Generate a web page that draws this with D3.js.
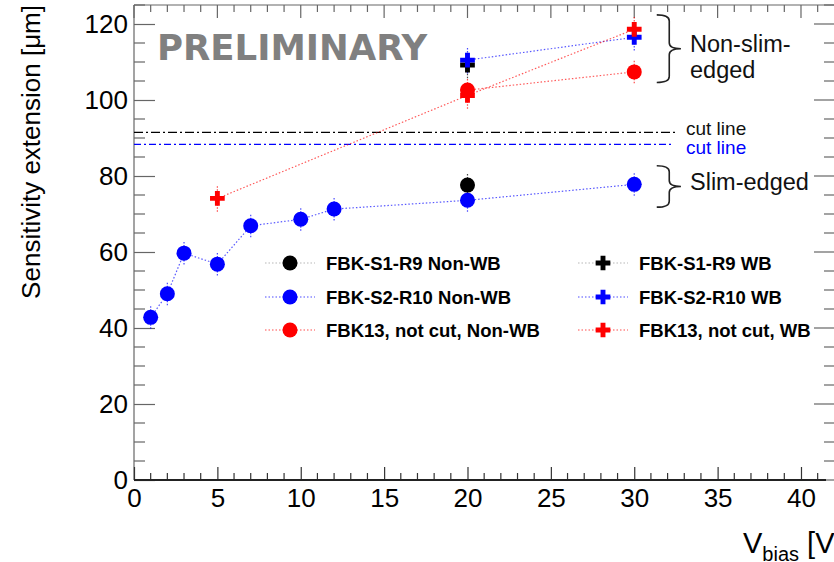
<!DOCTYPE html>
<html><head><meta charset="utf-8">
<script src="https://cdn.jsdelivr.net/npm/d3@7"></script>
<style>body{margin:0;background:#fff}svg{display:block}</style>
</head><body>
<svg id="c" width="834" height="562"></svg>
<script>
// ---- data ----
const xTickLabels = [0,5,10,15,20,25,30,35,40];
const yTickLabels = [0,20,40,60,80,100,120];

const s1r9NonWB_V = [20];
const s1r9NonWB   = [77.6];
const s1r9WB_V    = [20];
const s1r9WB      = [109.2];
const s2r10NonWB_V = [1,2,3,5,7,10,12,20,30];
const s2r10NonWB   = [42.8,49.0,59.7,56.8,66.9,68.6,71.3,73.6,77.8];
const s2r10WB_V   = [20,30];
const s2r10WB     = [110.5,116.5];
const fbk13NonWB_V = [20,30];
const fbk13NonWB   = [102.6,107.4];
const fbk13WB_V   = [5,20,30];
const fbk13WB     = [74.1,101.2,118.6];
const errCircle = 3.0;
const errCross = 3.5;

const cutLines = [
  {value: 91.5, xEnd: 32.6, color: "#000", label: "cut line", labelAt: 92.4},
  {value: 88.3, xEnd: 32.3, color: "#0000ff", label: "cut line", labelAt: 87.4}
];
const braces = [
  {x0: 31.35, x1: 32.1, tip: 32.8, top: 122.4, bot: 104.6, labelAt: 112.6, lines: ["Non-slim-","edged"]},
  {x0: 31.35, x1: 32.1, tip: 32.8, top: 82.7, bot: 71.8, labelAt: 76.3, lines: ["Slim-edged"]}
];

const series = [
  {name:"FBK-S1-R9 Non-WB", V:s1r9NonWB_V, y:s1r9NonWB, color:"#000", mk:"circle", lc:"#999", col:0, row:0},
  {name:"FBK-S1-R9 WB", V:s1r9WB_V, y:s1r9WB, color:"#000", mk:"cross", lc:"#999", col:1, row:0},
  {name:"FBK-S2-R10 Non-WB", V:s2r10NonWB_V, y:s2r10NonWB, color:"#0000ff", mk:"circle", lc:"#0000ff", col:0, row:1},
  {name:"FBK-S2-R10 WB", V:s2r10WB_V, y:s2r10WB, color:"#0000ff", mk:"cross", lc:"#0000ff", col:1, row:1},
  {name:"FBK13, not cut, Non-WB", V:fbk13NonWB_V, y:fbk13NonWB, color:"#ff0000", mk:"circle", lc:"#ff0000", col:0, row:2},
  {name:"FBK13, not cut, WB", V:fbk13WB_V, y:fbk13WB, color:"#ff0000", mk:"cross", lc:"#ff0000", col:1, row:2}
];

// ---- layout ----
const svg = d3.select("#c");
const L = 134, R = 826, T = 5, B = 480;
const x = d3.scaleLinear().domain([0, 41.5]).range([L, R]);
const y = d3.scaleLinear().domain([0, 125]).range([B, T]);
const font = "'Liberation Sans', Arial, Helvetica, sans-serif";
const axisCol = "#666";

// frame top line
svg.append("line").attr("x1", L).attr("x2", 834).attr("y1", T).attr("y2", T)
  .attr("stroke", axisCol).attr("stroke-width", 1.2);

// top ticks
const unitTicks = d3.range(0, 42, 1);
svg.append("g").selectAll("line").data(unitTicks).join("line")
  .attr("x1", d => x(d)).attr("x2", d => x(d))
  .attr("y1", T).attr("y2", d => T + (d % 5 === 0 ? 13 : 7))
  .attr("stroke", axisCol).attr("stroke-width", 1.2);

// right ticks
const fiveTicks = d3.range(0, 126, 5);
svg.append("g").selectAll("line").data(fiveTicks).join("line")
  .attr("x1", 834).attr("x2", d => 834 - (d % 20 === 0 ? 20 : 10))
  .attr("y1", d => y(d)).attr("y2", d => y(d))
  .attr("stroke", axisCol).attr("stroke-width", 1.2);

// left axis
const gy = svg.append("g").attr("transform", `translate(${L},0)`)
  .call(d3.axisLeft(y).tickValues(yTickLabels).tickSize(-21).tickPadding(6).tickFormat(d3.format("d")));
gy.select(".domain").remove();
gy.selectAll(".tick line").attr("stroke", axisCol).attr("stroke-width", 1.2);
gy.selectAll(".tick text").attr("font-family", font).attr("font-size", 26).attr("fill", "#000");
svg.append("g").selectAll("line").data(fiveTicks.filter(d => d % 20 !== 0)).join("line")
  .attr("x1", L).attr("x2", L + 11).attr("y1", d => y(d)).attr("y2", d => y(d))
  .attr("stroke", axisCol).attr("stroke-width", 1.2);
svg.append("line").attr("x1", L).attr("x2", L).attr("y1", T).attr("y2", B)
  .attr("stroke", axisCol).attr("stroke-width", 1.2);

// bottom axis
const gx = svg.append("g").attr("transform", `translate(0,${B})`)
  .call(d3.axisBottom(x).tickValues(xTickLabels).tickSize(-13).tickPadding(9).tickFormat(d3.format("d")));
gx.select(".domain").remove();
gx.selectAll(".tick line").attr("stroke", "#333").attr("stroke-width", 1.2);
gx.selectAll(".tick text").attr("font-family", font).attr("font-size", 26).attr("fill", "#000");
svg.append("g").selectAll("line").data(unitTicks.filter(d => d % 5 !== 0)).join("line")
  .attr("x1", d => x(d)).attr("x2", d => x(d)).attr("y1", B).attr("y2", B - 7)
  .attr("stroke", "#333").attr("stroke-width", 1.2);
svg.append("line").attr("x1", L).attr("x2", R).attr("y1", B).attr("y2", B)
  .attr("stroke", "#222").attr("stroke-width", 2.2);

// axis titles
svg.append("text").attr("transform", `translate(40,${T}) rotate(-90)`)
  .attr("text-anchor", "end").attr("font-family", font).attr("font-size", 26)
  .text("Sensitivity extension [\u03BCm]");
const xt = svg.append("text").attr("x", 743).attr("y", 553)
  .attr("font-family", font).attr("font-size", 29);
xt.append("tspan").text("V");
xt.append("tspan").attr("font-size", 20).attr("dy", 8).text("bias");
xt.append("tspan").attr("dy", -8).text(" [V]");

// PRELIMINARY
svg.append("text").attr("x", 157).attr("y", 60)
  .attr("font-family", "'DejaVu Sans', Verdana, sans-serif").attr("font-weight", "bold")
  .attr("font-size", 35.5).attr("fill", "#808080").text("PRELIMINARY");

// cut lines
cutLines.forEach((c, i) => {
  svg.append("line").attr("x1", x(0)).attr("x2", x(c.xEnd))
    .attr("y1", y(c.value)).attr("y2", y(c.value))
    .attr("stroke", c.color).attr("stroke-width", 1.3)
    .attr("stroke-dasharray", i === 0 ? "9,3,2,3" : "7,3,2,3");
  svg.append("text").attr("x", 686).attr("y", y(c.labelAt) + 6)
    .attr("font-family", font).attr("font-size", 19).attr("fill", c.color === "#000" ? "#111" : "#0000ff")
    .text(c.label);
});

// braces + labels
braces.forEach(b => {
  const x0 = x(b.x0), x1 = x(b.x1), xt2 = x(b.tip);
  const yt = y(b.top), yb = y(b.bot), ym = (yt + yb) / 2, r = 6;
  const p = `M${x0},${yt} Q${x1},${yt} ${x1},${yt + r} L${x1},${ym - r} Q${x1},${ym} ${xt2},${ym}`
    + ` Q${x1},${ym} ${x1},${ym + r} L${x1},${yb - r} Q${x1},${yb} ${x0},${yb}`;
  svg.append("path").attr("d", p).attr("fill", "none").attr("stroke", "#222").attr("stroke-width", 1.6);
  b.lines.forEach((t, i) => {
    svg.append("text").attr("x", 690).attr("y", y(b.labelAt) + i * 26)
      .attr("font-family", font).attr("font-size", 23.5).attr("fill", "#111").text(t);
  });
});

// data lines
const line = d3.line().x(d => x(d[0])).y(d => y(d[1]));
series.forEach(s => {
  if (s.V.length < 2) return;
  svg.append("path").attr("d", line(s.V.map((v, i) => [v, s.y[i]])))
    .attr("fill", "none").attr("stroke", s.color).attr("stroke-width", 1.2)
    .attr("stroke-dasharray", "1.5,2").attr("opacity", 0.65);
});

// error bars
series.forEach(s => {
  const e = s.mk === "circle" ? errCircle : errCross;
  svg.append("g").selectAll("line").data(s.V.map((v, i) => [v, s.y[i]])).join("line")
    .attr("x1", d => x(d[0])).attr("x2", d => x(d[0]))
    .attr("y1", d => y(d[1] - e)).attr("y2", d => y(d[1] + e))
    .attr("stroke", s.color).attr("stroke-width", 1.2).attr("stroke-dasharray", "1.5,1.5").attr("opacity", 0.7);
});

// markers
const crossSym = d3.symbol(d3.symbolCross, 120);
function marker(g, s, cx, cy) {
  if (s.mk === "circle") {
    g.append("circle").attr("cx", cx).attr("cy", cy).attr("r", 7.5).attr("fill", s.color);
  } else {
    g.append("path").attr("d", crossSym()).attr("transform", `translate(${cx},${cy})`).attr("fill", s.color);
  }
}
series.forEach(s => {
  const g = svg.append("g");
  s.V.forEach((v, i) => marker(g, s, x(v), y(s.y[i])));
});

// legend
const colX = [290, 603], rowY = [263, 297, 330];
series.forEach(s => {
  const cx = colX[s.col], cy = rowY[s.row];
  svg.append("line").attr("x1", cx - 25).attr("x2", cx + 25).attr("y1", cy).attr("y2", cy)
    .attr("stroke", s.lc).attr("stroke-width", 1.2).attr("stroke-dasharray", "1.5,2").attr("opacity", 0.7);
  const g = svg.append("g");
  marker(g, s, cx, cy);
  svg.append("text").attr("x", cx + 36).attr("y", cy + 6.5)
    .attr("font-family", font).attr("font-weight", "bold").attr("font-size", 18.5)
    .attr("fill", "#000").text(s.name);
});
</script>
</body></html>
